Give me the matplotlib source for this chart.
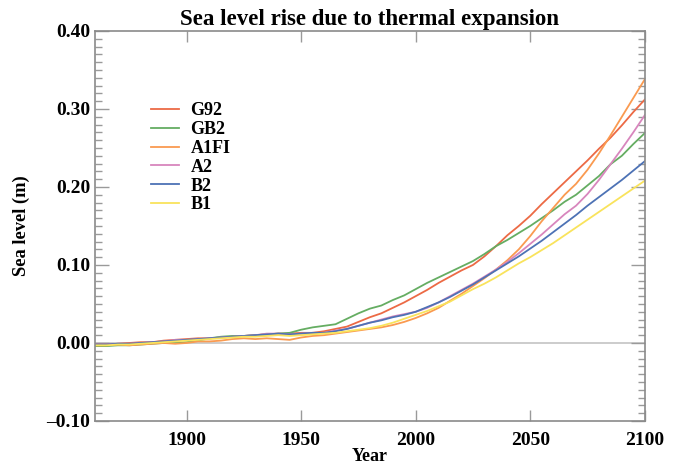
import numpy as np
import matplotlib.pyplot as plt
from matplotlib.ticker import MultipleLocator

# years every 5 years, 1860-2100
years = list(range(1860, 2101, 5))

g92 = [-0.002, -0.002, -0.001, 0.000, 0.001, 0.001, 0.003, 0.004, 0.005, 0.006,
       0.006, 0.007, 0.008, 0.009, 0.010, 0.011, 0.012, 0.012, 0.013, 0.013,
       0.015, 0.018, 0.021, 0.027, 0.033, 0.038, 0.045, 0.052, 0.060, 0.068,
       0.077, 0.085, 0.093, 0.100, 0.111, 0.124, 0.138, 0.150, 0.163, 0.178,
       0.192, 0.206, 0.220, 0.234, 0.249, 0.263, 0.279, 0.296, 0.312]
gb2 = [-0.004, -0.004, -0.003, -0.003, -0.002, -0.001, 0.000, 0.000, 0.001, 0.003,
       0.006, 0.008, 0.009, 0.009, 0.010, 0.011, 0.012, 0.013, 0.017, 0.020,
       0.022, 0.024, 0.031, 0.038, 0.044, 0.048, 0.055, 0.061, 0.069, 0.077,
       0.084, 0.091, 0.098, 0.105, 0.114, 0.124, 0.132, 0.141, 0.150, 0.160,
       0.170, 0.181, 0.190, 0.202, 0.214, 0.229, 0.240, 0.255, 0.269]
a1fi = [-0.003, -0.003, -0.002, -0.003, -0.002, -0.001, 0.000, -0.001, 0.000, 0.002,
        0.002, 0.003, 0.005, 0.006, 0.005, 0.006, 0.005, 0.004, 0.007, 0.009,
        0.010, 0.012, 0.014, 0.016, 0.018, 0.020, 0.023, 0.027, 0.032, 0.038,
        0.045, 0.054, 0.063, 0.073, 0.083, 0.094, 0.106, 0.120, 0.137, 0.156,
        0.173, 0.190, 0.204, 0.222, 0.243, 0.266, 0.290, 0.314, 0.338]
a2 = [-0.002, -0.002, -0.001, -0.001, 0.000, 0.001, 0.002, 0.004, 0.004, 0.005,
      0.006, 0.007, 0.008, 0.009, 0.010, 0.012, 0.012, 0.011, 0.012, 0.013,
      0.013, 0.016, 0.018, 0.022, 0.026, 0.030, 0.034, 0.037, 0.040, 0.045,
      0.052, 0.060, 0.068, 0.076, 0.085, 0.094, 0.104, 0.115, 0.127, 0.139,
      0.152, 0.165, 0.176, 0.191, 0.209, 0.229, 0.249, 0.270, 0.292]
b2 = [-0.002, -0.002, -0.001, -0.001, 0.000, 0.001, 0.002, 0.003, 0.004, 0.005,
      0.006, 0.007, 0.008, 0.009, 0.010, 0.011, 0.012, 0.011, 0.012, 0.013,
      0.013, 0.015, 0.018, 0.022, 0.026, 0.029, 0.033, 0.036, 0.040, 0.046,
      0.052, 0.059, 0.067, 0.075, 0.084, 0.093, 0.102, 0.111, 0.121, 0.131,
      0.142, 0.153, 0.164, 0.176, 0.187, 0.198, 0.209, 0.221, 0.233]
b1 = [-0.003, -0.003, -0.002, -0.002, -0.001, 0.000, 0.001, 0.002, 0.003, 0.004,
      0.005, 0.006, 0.007, 0.008, 0.008, 0.009, 0.010, 0.009, 0.010, 0.011,
      0.012, 0.013, 0.015, 0.017, 0.019, 0.022, 0.026, 0.031, 0.036, 0.041,
      0.047, 0.053, 0.061, 0.069, 0.076, 0.084, 0.093, 0.102, 0.110, 0.119,
      0.128, 0.138, 0.148, 0.158, 0.168, 0.178, 0.188, 0.198, 0.208]

names = ["G92", "GB2", "A1FI", "A2", "B2", "B1"]
series = [g92, gb2, a1fi, a2, b2, b1]
colors = ["#ec6a45", "#65ad62", "#fa9a50", "#d886bd", "#4d72b5", "#f9e35c"]

plt.rcParams['font.family'] = ['Liberation Serif', 'DejaVu Serif']
plt.rcParams['font.weight'] = 'bold'

fig = plt.figure(figsize=(6.78, 4.66), dpi=100)
ax = fig.add_axes([0.140, 0.0966, 0.811, 0.837])

ax.axhline(0, color="#c8c8c8", lw=1.3, zorder=1)
for name, vals, c in zip(names, series, colors):
    ax.plot(years, vals, color=c, lw=1.3, label=name, zorder=2)

ax.set_xlim(1860, 2100)
ax.set_ylim(-0.10, 0.40)
ax.set_xticks([1900, 1950, 2000, 2050, 2100])
ax.yaxis.set_major_locator(MultipleLocator(0.1))
ax.yaxis.set_minor_locator(MultipleLocator(0.01))
ax.set_yticklabels([f"{v:.2f}".replace("-", "\u2013") for v in ax.get_yticks()])

for s in ax.spines.values():
    s.set_color("#8a8a8a")
    s.set_linewidth(1.2)
ax.tick_params(axis='both', which='both', direction='in', colors="#9a9a9a",
               labelcolor="black", labelsize=14, right=True, top=True)
ax.tick_params(axis='y', which='major', length=10, width=1)
ax.tick_params(axis='y', which='minor', length=5, width=1)
ax.tick_params(axis='x', which='major', length=8, width=1, pad=8)
for lab in ax.get_xticklabels() + ax.get_yticklabels():
    lab.set_fontweight('bold')

ax.set_title("Sea level rise due to thermal expansion", fontsize=16.5,
             fontweight='bold', pad=4)
ax.set_xlabel("Year", fontsize=13, fontweight='bold', labelpad=-1)
ax.set_ylabel("Sea level (m)", fontsize=13.3, fontweight='bold', labelpad=12)

leg = ax.legend(loc='upper left', bbox_to_anchor=(0.085, 0.84), frameon=False,
                fontsize=13, handlelength=1.55, handletextpad=0.65,
                labelspacing=0.1, borderpad=0)
for t in leg.get_texts():
    t.set_fontweight('bold')

fig.savefig("out.png", dpi=100)
